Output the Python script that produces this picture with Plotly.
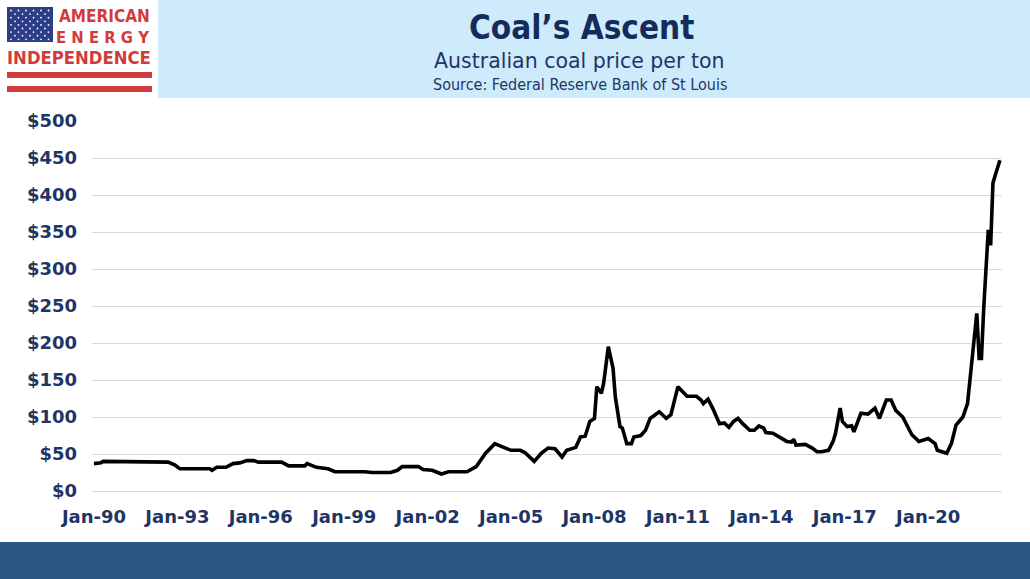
import plotly.graph_objects as go

W, H = 1030, 579
NAVY = "#1F3565"
TITLE_NAVY = "#142B5C"
RED = "#D23B3B"
HEADER_BG = "#CDEBFB"
BAND = "#2B5785"
GRID = "#D9D9D9"

# ── Data: Australian coal price, $ per ton ───────────────────────────────────
months = [
    "1990-01", "1990-04", "1990-05", "1991-01", "1991-03", "1992-09", "1992-12",
    "1993-02", "1994-03", "1994-04", "1994-06", "1994-10", "1995-01", "1995-04",
    "1995-07", "1995-10", "1995-12", "1996-10", "1997-01", "1997-08", "1997-09",
    "1997-11", "1998-01", "1998-06", "1998-09", "1999-10", "2000-01", "2000-09",
    "2000-12", "2001-02", "2001-09", "2001-11", "2002-03", "2002-07", "2002-10",
    "2003-06", "2003-10", "2004-02", "2004-06", "2004-09", "2005-01", "2005-05",
    "2005-07", "2005-11", "2006-02", "2006-05", "2006-08", "2006-11", "2007-01",
    "2007-05", "2007-07", "2007-09", "2007-11", "2008-01", "2008-02", "2008-04",
    "2008-05", "2008-07", "2008-09", "2008-10", "2008-12", "2009-01", "2009-03",
    "2009-05", "2009-06", "2009-09", "2009-11", "2010-01", "2010-05", "2010-08",
    "2010-10", "2011-01", "2011-03", "2011-05", "2011-09", "2011-11", "2011-12",
    "2012-02", "2012-04", "2012-05", "2012-07", "2012-09", "2012-11", "2013-01",
    "2013-03", "2013-05", "2013-08", "2013-10", "2013-12", "2014-02", "2014-03",
    "2014-06", "2014-09", "2014-12", "2015-02", "2015-03", "2015-04", "2015-08",
    "2015-11", "2016-01", "2016-03", "2016-06", "2016-08", "2016-09", "2016-11",
    "2016-12", "2017-02", "2017-04", "2017-05", "2017-06", "2017-08", "2017-11",
    "2018-02", "2018-04", "2018-07", "2018-09", "2018-11", "2019-02", "2019-04",
    "2019-06", "2019-09", "2020-01", "2020-04", "2020-05", "2020-09", "2020-11",
    "2021-01", "2021-04", "2021-06", "2021-08", "2021-10", "2021-11", "2021-12",
    "2022-01", "2022-02", "2022-03", "2022-04", "2022-05", "2022-06", "2022-07",
    "2022-08",
]
price = [
    37, 38, 40, 40, 39, 39, 35,
    30, 30, 28, 32, 32, 37, 38,
    41, 41, 39, 39, 34, 34, 37,
    35, 32, 30, 26, 26, 25, 25,
    28, 33, 33, 29, 28, 23, 26,
    26, 33, 51, 64, 60, 55, 55,
    52, 40, 51, 58, 57, 46, 55,
    59, 73, 74, 94, 98, 141, 132,
    146, 195, 166, 127, 87, 85, 64,
    64, 73, 75, 82, 98, 107, 98,
    103, 141, 134, 128, 128, 123, 118,
    124, 112, 105, 91, 92, 86, 94,
    98, 91, 82, 82, 88, 85, 79,
    78, 73, 67, 66, 70, 62, 63,
    58, 53, 53, 55, 67, 78, 112,
    94, 87, 88, 80, 88, 105, 104,
    112, 98, 123, 123, 109, 100, 89,
    76, 67, 71, 64, 55, 51, 64,
    89, 100, 118, 177, 240, 179, 179,
    249, 300, 353, 332, 416, 427, 437,
    447,
]

tick_years = list(range(1990, 2021, 3))
tick_vals = [f"{y}-01-01" for y in tick_years]
tick_text = [f"Jan-{y % 100:02d}" for y in tick_years]
y_ticks = list(range(0, 501, 50))
y_text = [f"${v}" for v in y_ticks]

# plot area in pixels
L, R, T, B = 92, 1002, 121, 491


def px(x):
    return (x - L) / (R - L)


def py(y):
    return (B - y) / (B - T)


fig = go.Figure(go.Scatter(
    x=months, y=price, mode="lines",
    line=dict(color="black", width=3.6),
    hovertemplate="%{x|%b-%y}: $%{y}<extra></extra>",
))

shapes = [
    # header banner
    dict(type="rect", xref="paper", yref="paper", x0=px(158), x1=px(1030),
         y0=py(98), y1=py(0), fillcolor=HEADER_BG, line_width=0),
    # bottom band
    dict(type="rect", xref="paper", yref="paper", x0=px(0), x1=px(1030),
         y0=py(579), y1=py(542), fillcolor=BAND, line_width=0),
    # logo flag + stripes
    dict(type="rect", xref="paper", yref="paper", x0=px(7), x1=px(53),
         y0=py(42), y1=py(7), fillcolor="#2D3E88", line_width=0),
    dict(type="rect", xref="paper", yref="paper", x0=px(7), x1=px(152),
         y0=py(78), y1=py(72), fillcolor=RED, line_width=0),
    dict(type="rect", xref="paper", yref="paper", x0=px(7), x1=px(152),
         y0=py(92), y1=py(86), fillcolor=RED, line_width=0),
]
# little white stars on the flag
for row in range(9):
    n = 6 if row % 2 == 0 else 5
    off = 11 if row % 2 == 0 else 15
    cy = 10.5 + row * 3.6
    for c in range(n):
        cx = off + c * 7.5
        shapes.append(dict(type="circle", xref="paper", yref="paper",
                           x0=px(cx - 0.9), x1=px(cx + 0.9),
                           y0=py(cy + 0.9), y1=py(cy - 0.9),
                           fillcolor="white", line_width=0))

COND = "DejaVu Sans Condensed, DejaVu Sans"
annotations = [
    dict(text="<b>Coal’s Ascent</b>", x=px(581), y=py(27.5),
         font=dict(family=COND, size=33, color=TITLE_NAVY)),
    dict(text="Australian coal price per ton", x=px(579), y=py(60.5),
         font=dict(family="DejaVu Sans", size=20.5, color=NAVY)),
    dict(text="Source: Federal Reserve Bank of St Louis", x=px(580), y=py(84.5),
         font=dict(family=COND, size=16, color=NAVY)),
    dict(text="<b>AMERICAN</b>", x=px(152), y=py(16), xanchor="right",
         font=dict(family=COND, size=17, color=RED)),
    dict(text="<b>E N E R G Y</b>", x=px(151), y=py(37), xanchor="right",
         font=dict(family=COND, size=16.5, color=RED)),
    dict(text="<b>INDEPENDENCE</b>", x=px(153), y=py(57.5), xanchor="right",
         font=dict(family=COND, size=18.3, color=RED)),
]
for a in annotations:
    a.update(xref="paper", yref="paper", showarrow=False, yanchor="middle")
    a.setdefault("xanchor", "center")

TICK_FONT = dict(family="DejaVu Sans", size=18, color=NAVY, weight="bold")

fig.update_layout(
    width=W, height=H,
    margin=dict(l=L, r=W - R, t=T, b=H - B, pad=0),
    paper_bgcolor="white", plot_bgcolor="white",
    showlegend=False,
    shapes=shapes,
    annotations=annotations,
    xaxis=dict(
        type="date",
        range=["1989-12-06", "2022-08-28"],
        tickvals=tick_vals, ticktext=tick_text,
        tickfont=TICK_FONT,
        showgrid=False, zeroline=False, showline=False,
        ticks="", ticklabelstandoff=13,
    ),
    yaxis=dict(
        range=[0, 500],
        tickvals=y_ticks, ticktext=y_text,
        tickfont=TICK_FONT,
        showgrid=True, gridcolor=GRID, gridwidth=1,
        zeroline=True, zerolinecolor=GRID, zerolinewidth=1,
        showline=False, ticks="", ticklabelstandoff=14,
    ),
)

fig.write_html("out.html", config={"displayModeBar": False},
               post_script="document.body.style.margin='0';")
